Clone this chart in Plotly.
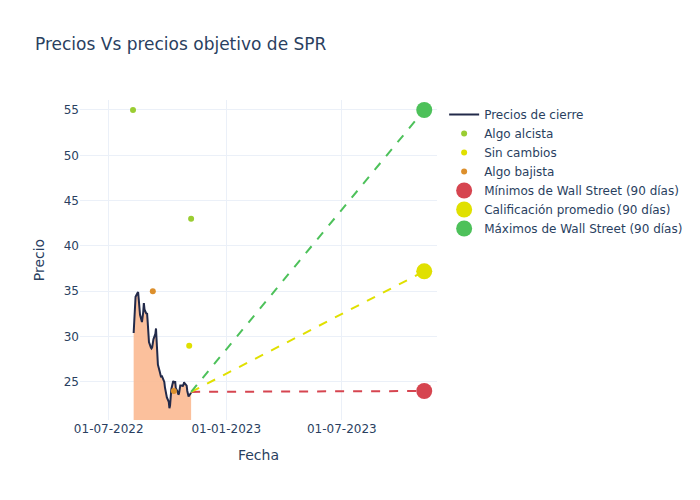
import pandas as pd
import plotly.graph_objects as go

# Closing prices (business days 2022-08-09 .. 2022-11-07)
close_start = "2022-08-09"
close_end = "2022-11-07"
close_values = [
    30.4, 32.0, 33.6, 34.4, 34.8, 34.9, 34.1, 33.2, 32.4, 31.6,
    32.0, 32.7, 33.7, 33.0, 32.5, 32.6, 31.6, 30.6, 29.4, 28.8,
    28.7, 28.8, 29.2, 29.7, 30.3, 30.9, 29.5, 28.3, 26.9, 26.1,
    25.6, 25.5, 25.7, 25.5, 25.0, 24.4, 24.0, 23.6, 23.3, 22.8,
    22.1, 22.4, 23.1, 24.2, 25.1, 25.0, 24.9, 25.1, 24.3, 23.9,
    23.6, 23.7, 24.2, 24.6, 24.6, 24.5, 24.7, 24.95, 24.85, 24.6,
    24.0, 23.7, 23.4, 23.5, 23.8, 23.2, 22.5, 23.4, 23.8, 23.9,
]
close_dates = pd.bdate_range(close_start, close_end)

# Analyst ratings
alcista_dates = ["2022-08-08", "2022-11-07"]
alcista_values = [55, 43]
sin_cambios_dates = ["2022-11-04"]
sin_cambios_values = [29]
bajista_dates = ["2022-09-08", "2022-10-11"]
bajista_values = [35, 24]

# Wall Street targets (90 days)
target_date = "2023-11-07"
target_low = 24.0
target_avg = 37.2
target_high = 55.0

last_date = close_dates[-1]
last_close = close_values[-1]

fig = go.Figure()

fig.add_trace(go.Scatter(
    x=close_dates, y=close_values, mode="lines", showlegend=False,
    line=dict(width=0), fill="tozeroy",
    fillcolor="rgba(251,185,145,0.9)", hoverinfo="skip",
))
fig.add_trace(go.Scatter(
    x=close_dates, y=close_values, mode="lines", name="Precios de cierre",
    line=dict(color="#222a4a", width=2),
))
fig.add_trace(go.Scatter(
    x=alcista_dates, y=alcista_values, mode="markers", name="Algo alcista",
    marker=dict(color="#9acd32", size=6),
))
fig.add_trace(go.Scatter(
    x=sin_cambios_dates, y=sin_cambios_values, mode="markers", name="Sin cambios",
    marker=dict(color="#e0e000", size=6),
))
fig.add_trace(go.Scatter(
    x=bajista_dates, y=bajista_values, mode="markers", name="Algo bajista",
    marker=dict(color="#dc8f2c", size=6),
))

targets = [
    ("Mínimos de Wall Street (90 días)", target_low, "#d64550"),
    ("Calificación promedio (90 días)", target_avg, "#e0e000"),
    ("Máximos de Wall Street (90 días)", target_high, "#4dc15a"),
]
for name, val, color in targets:
    fig.add_trace(go.Scatter(
        x=[last_date, target_date], y=[last_close, val], mode="lines",
        line=dict(color=color, dash="dash", width=2), showlegend=False,
        hoverinfo="skip",
    ))
for name, val, color in targets:
    fig.add_trace(go.Scatter(
        x=[target_date], y=[val], mode="markers", name=name,
        marker=dict(color=color, size=16),
    ))

fig.update_layout(
    template="plotly_white",
    width=700, height=500,
    font=dict(family="DejaVu Sans"),
    title=dict(text="Precios Vs precios objetivo de SPR"),
    xaxis=dict(title="Fecha", tickformat="%d-%m-%Y", dtick="M6",
               tick0="2022-07-01", range=["2022-05-17", "2023-11-27"]),
    yaxis=dict(title="Precio", range=[20.8, 56.1]),
    margin=dict(l=80, t=100, b=80),
)

fig.write_html("out.html")
